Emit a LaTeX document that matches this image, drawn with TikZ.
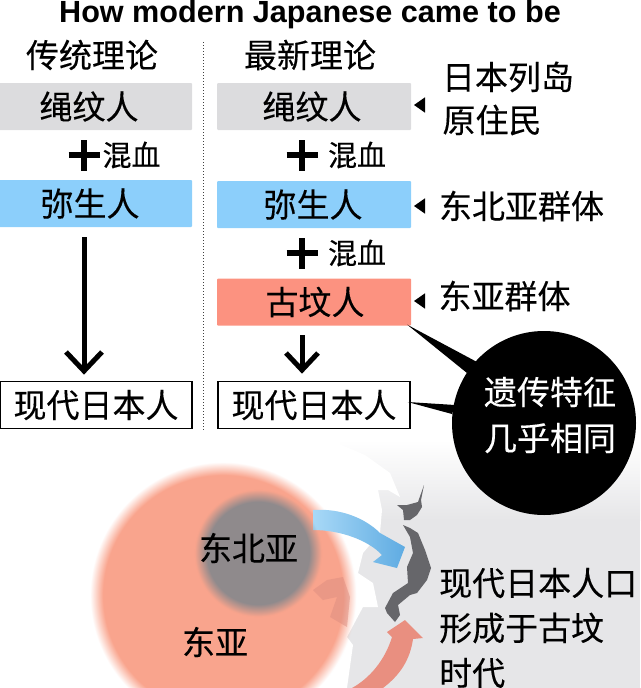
\documentclass[tikz,border=0pt]{standalone}
\usepackage{fontspec}
\setmainfont{Liberation Sans}
\newfontfamily\cjk[FakeBold=0.25]{Noto Sans CJK SC}
\usepackage{tikz}
\usetikzlibrary{positioning, arrows.meta, shapes.geometric, fadings}
\definecolor{jomongray}{HTML}{DCDCDE}
\definecolor{yayoiblue}{HTML}{8CCFFB}
\definecolor{kofunred}{HTML}{FC9280}
\definecolor{mapgray}{HTML}{E6E6E8}
\definecolor{eastasia}{HTML}{F9A48D}
\definecolor{northgray}{HTML}{8F8A8C}
\definecolor{japangray}{HTML}{66666A}
\definecolor{flowpale}{HTML}{A8D9F7}
\definecolor{flowdeep}{HTML}{5FABE2}
\tikzset{
	groupbox/.style={minimum width=#1, minimum height=47, inner sep=0pt, rounded corners=1pt, font=\cjk\fontsize{33}{33}\selectfont},
	jomon/.style={groupbox=194, fill=jomongray},
	yayoi/.style={groupbox=194, fill=yayoiblue},
	kofun/.style={groupbox=194, fill=kofunred},
	modern/.style={groupbox=192, draw=black, line width=1.2, rounded corners=0pt},
	label/.style={inner sep=0pt, font=\cjk\fontsize{33}{33}\selectfont},
	mix/.style={inner sep=0pt, font=\cjk\fontsize{29}{29}\selectfont},
	plusmark/.style={line width=6, -, black},
	bigarrow/.style={line width=5, black},
	pointer/.style={isosceles triangle, isosceles triangle apex angle=70, shape border rotate=180, fill=black, inner sep=0pt, minimum height=11, minimum width=12}
}
\pgfdeclareradialshading{softshadea}{\pgfpointorigin}{color(0bp)=(pgftransparent!0); color(21.8bp)=(pgftransparent!0); color(24.2bp)=(pgftransparent!100); color(50bp)=(pgftransparent!100)}
\pgfdeclarefading{softreda}{\pgfuseshading{softshadea}}
\pgfdeclareradialshading{softshadeb}{\pgfpointorigin}{color(0bp)=(pgftransparent!0); color(18.2bp)=(pgftransparent!0); color(22.6bp)=(pgftransparent!100); color(50bp)=(pgftransparent!100)}
\pgfdeclarefading{softgraya}{\pgfuseshading{softshadeb}}
\begin{document}
\begin{tikzpicture}[x=1pt, y=-1pt]
	\useasboundingbox (0, 0) rectangle (640, 688);
	
	% Map behind the lower half
	\shade[top color=white, bottom color=mapgray] (340, 440) rectangle (640, 520);
	\fill[mapgray] (340, 519.5) rectangle (640, 688);
	\fill[white] (330, 440) -- (365, 455) -- (390, 473) -- (400, 497) -- (388, 490) -- (378, 490) -- (382, 510) -- (380, 533) -- (363, 553) -- (358, 573) -- (373, 583) -- (378, 607) -- (363, 607) -- (347, 637) -- (353, 645) -- (347, 688) -- (330, 688) -- cycle;
	
	% Groups on the map
	\fill[eastasia, path fading=softreda] (223, 595) circle (137);
	\fill[kofunred!75!gray, opacity=0.5] (313, 590) -- (327, 580) -- (343, 577) -- (350, 597) -- (347, 627) -- (330, 617) -- (337, 597) -- (323, 600) -- cycle;
	\shade[left color=flowpale, right color=flowdeep] (313, 510) .. controls (340, 508) and (365, 518) .. (380, 533) -- (405, 547) -- (397, 568) -- (373, 562) -- (382, 555) .. controls (368, 540) and (340, 530) .. (313, 530) -- cycle;
	\fill[northgray, path fading=softgraya] (258, 553) circle (70);
	
	% Japan
	\fill[japangray] (397, 505) -- (407, 505) -- (418, 502) -- (424, 485) -- (421, 500) -- (422, 507) -- (417, 515) -- (410, 520) -- (404, 520) -- (403, 510) -- cycle;
	\fill[japangray] (403, 525) -- (410, 528) -- (418, 533) -- (425, 550) -- (431, 568) -- (427, 580) -- (417, 593) -- (410, 595) -- (398, 605) -- (400, 615) -- (395, 622) -- (387, 613) -- (385, 608) -- (393, 593) -- (408, 583) -- (407, 567) -- (413, 553) -- (410, 537) -- cycle;
	
	% Arrow from the south
	\fill[kofunred!85!gray] (352, 688) .. controls (370, 678) and (385, 660) .. (392, 637) -- (387, 632) -- (405, 620) -- (423, 638) -- (413, 639) .. controls (410, 660) and (400, 675) .. (383, 688) -- cycle;
	
	% Title and column heads
	\node[inner sep=0pt, font=\bfseries\fontsize{30.6}{30.6}\selectfont] (title) at (310, 14.5) {How modern Japanese came to be};
	\node[label] (oldhead) at (92, 55) {传统理论};
	\node[label] (newhead) at (310, 55) {最新理论};
	\coordinate (divtop) at (203, 42);
	\coordinate (divend) at (203, 430);
	\draw[line width=1, dotted, black!75] (divtop) -- (divend);
	
	% Traditional theory
	\node[jomon] (oldjomon) at (95, 106.5) {\hspace{-12pt}绳纹人};
	\node[yayoi] (oldyayoi) at (95, 203.5) {\hspace{-10pt}弥生人};
	\node[modern] (oldmodern) at (96, 405) {现代日本人};
	\node[mix] (oldmix) at (131.5, 155) {混血};
	\coordinate (oldplus) at (84, 155);
	\draw[plusmark] ([xshift=-15.5]oldplus) -- ([xshift=15.5]oldplus);
	\draw[plusmark] ([yshift=-15.5]oldplus) -- ([yshift=15.5]oldplus);
	\coordinate (oldfrom) at (84, 237);
	\coordinate (oldto) at (84, 371);
	\draw[bigarrow] (oldfrom) -- (oldto);
	\draw[bigarrow] (66, 352) -- (oldto) -- (102, 352);
	
	% Latest theory
	\node[jomon] (newjomon) at (314, 106.5) {\hspace{-4pt}绳纹人};
	\node[yayoi] (newyayoi) at (314, 204.5) {\hspace{-2pt}弥生人};
	\node[kofun] (newkofun) at (314, 302) {\hspace{2pt}古坟人};
	\node[modern] (newmodern) at (314, 405) {现代日本人};
	\node[mix] (newmixa) at (357, 155) {混血};
	\node[mix] (newmixb) at (357, 253) {混血};
	\coordinate (plusa) at (302, 155);
	\coordinate (plusb) at (302, 253);
	\foreach \p in {plusa, plusb} {
		\draw[plusmark] ([xshift=-15.5]\p) -- ([xshift=15.5]\p);
		\draw[plusmark] ([yshift=-15.5]\p) -- ([yshift=15.5]\p);
	}
	\coordinate (newfrom) at (302, 335);
	\coordinate (newto) at (302, 370);
	\draw[bigarrow] (newfrom) -- (newto);
	\draw[bigarrow] (286, 353) -- (newto) -- (318, 353);
	
	% Side labels
	\node[label] (islands) at (508, 77) {日本列岛};
	\node[label] (natives) at (492, 120) {原住民};
	\node[label] (northeast) at (521.5, 206) {东北亚群体};
	\node[label] (eastgroup) at (504.5, 296) {东亚群体};
	\node[pointer] (marka) at (421, 105) {};
	\node[pointer] (markb) at (421, 206) {};
	\node[pointer] (markc) at (421, 301) {};
	
	% Black callout
	\node[circle, fill=black, minimum size=184, inner sep=0pt] (same) at (544, 423) {};
	\node[label, text=white] (samea) at (550, 392) {遗传特征};
	\node[label, text=white] (sameb) at (550, 438) {几乎相同};
	\fill[black] (newkofun.south east) ++(-4, -1) -- (477, 362) -- (467, 373) -- cycle;
	\fill[black] (newmodern.east) ++(-3, -3) -- (455, 405) -- (452, 414) -- cycle;
	
	% Map labels
	\node[label] (northeastasia) at (248.5, 548) {东北亚};
	\node[label] (eastasia) at (215, 642) {东亚};
	\node[label, anchor=west] (notea) at (439, 583) {现代日本人口};
	\node[label, anchor=west] (noteb) at (439, 628) {形成于古坟};
	\node[label, anchor=west] (notec) at (439, 673) {时代};
\end{tikzpicture}
\end{document}
